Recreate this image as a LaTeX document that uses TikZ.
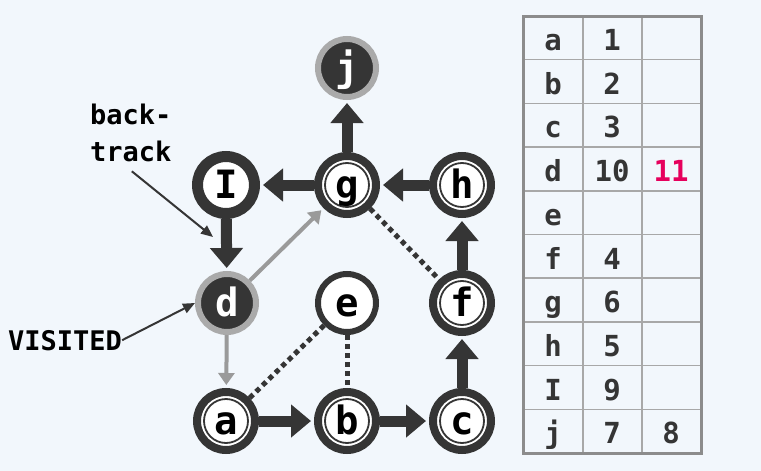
\documentclass[tikz,border=0pt]{standalone}
\usepackage{fontspec}
\setmonofont{DejaVu Sans Mono}
\usetikzlibrary{arrows.meta,calc}
\definecolor{bg}{HTML}{F2F7FC}
\definecolor{ink}{HTML}{353535}
\definecolor{ringgray}{HTML}{AAAAAA}
\definecolor{edgegray}{HTML}{9A9A9A}
\definecolor{gridgray}{HTML}{A8A8A8}
\definecolor{framegray}{HTML}{8C8C8C}
\definecolor{hot}{HTML}{E6005C}
\begin{document}
\begin{tikzpicture}[x=1pt,y=-1pt,
  vtx/.style={circle, inner sep=0pt, text height=26pt, text depth=0pt,
    text=black, font=\ttfamily\bfseries\fontsize{39}{39}\selectfont},
  done/.style={vtx, draw=ink, line width=8pt, fill=white, minimum size=58pt,
    path picture={\draw[ink,line width=1.8pt] (path picture bounding box.center) circle[radius=22pt];}},
  openv/.style={vtx, draw=ink, line width=11pt, fill=white, minimum size=57pt},
  fresh/.style={vtx, draw=ink, line width=6pt, fill=white, minimum size=58pt},
  dark/.style={vtx, draw=ringgray, line width=6pt, fill=ink, text=white, minimum size=58pt},
  tree/.style={draw=ink, line width=11pt, -{Triangle[width=32pt,length=20pt]}, shorten >=3pt},
  back/.style={draw=edgegray, line width=4pt, -{Triangle[width=16pt,length=12pt]}, shorten >=3pt},
  cross/.style={draw=ink, line width=5pt, dash pattern=on 5pt off 4pt},
  note/.style={draw=ink, line width=2pt, -{Triangle[width=10pt,length=12pt]}},
  label/.style={inner sep=0pt, text=black, font=\ttfamily\bfseries\fontsize{27}{37}\selectfont},
  cell/.style={anchor=base, inner sep=0pt, text=ink, font=\ttfamily\bfseries\fontsize{29}{29}\selectfont}]

% canvas
\fill[bg] (0,0) rectangle (761,471);
\useasboundingbox (0,0) rectangle (761,471);

% vertices
\node[dark]  (j) at (347,68)  {j};
\node[openv] (I) at (226,185) {I};
\node[done]  (g) at (347,185) {g};
\node[done]  (h) at (462,185) {h};
\node[dark]  (d) at (227,303) {d};
\node[fresh] (e) at (347,303) {e};
\node[done]  (f) at (462,303) {f};
\node[done]  (a) at (226,421) {a};
\node[done]  (b) at (347,421) {b};
\node[done]  (c) at (462,421) {c};

% non-tree edges
\draw[cross] (a) -- (e);
\draw[cross] (e) -- (b);
\draw[cross] (g) -- (f);

% tree edges of the search
\draw[tree] (a) -- (b);
\draw[tree] (b) -- (c);
\draw[tree] (c) -- (f);
\draw[tree] (f) -- (h);
\draw[tree] (h) -- (g);
\draw[tree] (g) -- (j);
\draw[tree] (g) -- (I);
\draw[tree] (I) -- (d);

% edges back from d
\draw[back] (d) -- (g);
\draw[back] (d) -- (a);

% annotations
\node[label, anchor=north west, align=left] (bt) at (90,104) {back-\\track};
\coordinate (btend) at (213,237);
\draw[note] ($(bt.south)+(1,9)$) -- (btend);
\node[label, anchor=base west] (vis) at (8,350) {VISITED};
\draw[note] (vis.east) -- (d.west);

% table of visit times
\foreach \r in {1,...,9}
  \draw[gridgray, line width=1.5pt] (523,{16+43.7*\r}) -- (701,{16+43.7*\r});
\draw[gridgray, line width=1.5pt] (583,16) -- (583,453);
\draw[gridgray, line width=1.5pt] (642,16) -- (642,453);
\draw[framegray, line width=3pt] (523,16) rectangle (701,453);

\node[cell] (ka) at (553,50.5)  {a};
\node[cell] (kb) at (553,94.2)  {b};
\node[cell] (kc) at (553,137.9) {c};
\node[cell] (kd) at (553,181.6) {d};
\node[cell] (ke) at (553,225.3) {e};
\node[cell] (kf) at (553,269.0) {f};
\node[cell] (kg) at (553,312.7) {g};
\node[cell] (kh) at (553,356.4) {h};
\node[cell] (kI) at (553,400.1) {I};
\node[cell] (kj) at (553,443.8) {j};

\node[cell] (na) at (612,50.5)  {1};
\node[cell] (nb) at (612,94.2)  {2};
\node[cell] (nc) at (612,137.9) {3};
\node[cell] (nd) at (612,181.6) {10};
\node[cell] (nf) at (612,269.0) {4};
\node[cell] (ng) at (612,312.7) {6};
\node[cell] (nh) at (612,356.4) {5};
\node[cell] (nI) at (612,400.1) {9};
\node[cell] (nj) at (612,443.8) {7};

\node[cell, text=hot] (md) at (671,181.6) {11};
\node[cell] (mj) at (671,443.8) {8};
\end{tikzpicture}
\end{document}
